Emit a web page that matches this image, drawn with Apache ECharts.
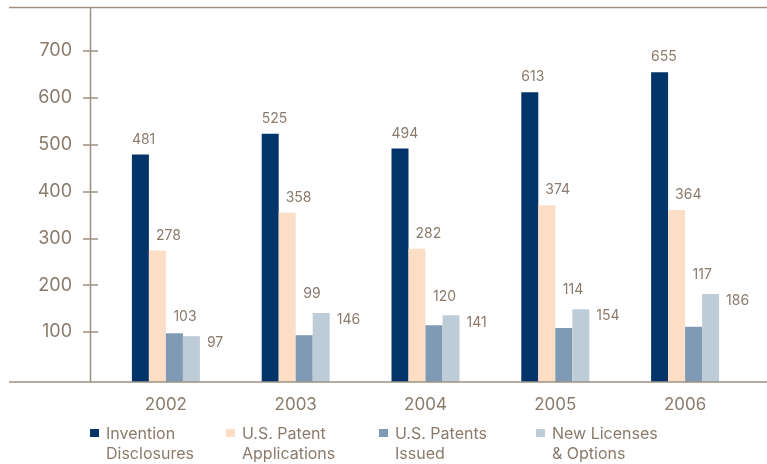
<!DOCTYPE html>
<html><head><meta charset="utf-8">
<script src="https://cdn.jsdelivr.net/npm/echarts@6/dist/echarts.min.js"></script>
<style>html,body{margin:0;padding:0;background:#fff}#c{width:767px;height:464px}</style>
</head><body><div id="c"></div>
<script>
// ---- data ----
const years = ['2002', '2003', '2004', '2005', '2006'];
const seriesNames = ['Invention\nDisclosures', 'U.S. Patent\nApplications', 'U.S. Patents\nIssued', 'New Licenses\n& Options'];
const inventionDisclosures = [481, 525, 494, 613, 655];
const patentApplications = [278, 358, 282, 374, 364];
const patentsIssued = [103, 99, 120, 114, 117];
const newLicenses = [97, 146, 141, 154, 186];
const yTickLabels = [100, 200, 300, 400, 500, 600, 700];

// ---- style ----
const FONT = 'Inter';
const TEXT = '#8A7B6C';
const LINE = '#9E9081';
const COLORS = ['#04356A', '#FCDEC6', '#7F9AB5', '#BECCD8'];
const BW = 17;

const chart = echarts.init(document.getElementById('c'), null, {renderer: 'canvas'});

function lbl(dx, dy) {
  return {show: true, position: 'top', distance: 0, align: 'left', verticalAlign: 'middle',
    offset: [dx, dy], color: TEXT, fontFamily: FONT, fontSize: 14};
}

const yMin = yTickLabels[0], yMax = yTickLabels[yTickLabels.length - 1];
const yStep = yTickLabels[1] - yTickLabels[0];

const legendX = [90, 226, 379, 536];
const legends = seriesNames.map((n, i) => ({
  data: [n], left: legendX[i], top: 424, padding: 0, orient: 'horizontal',
  itemWidth: 9, itemHeight: 30, icon: 'path://M0,0h9v8h-9zM0,30h0.01',
  selectedMode: false,
  textStyle: {color: TEXT, fontFamily: FONT, fontSize: 16, lineHeight: 20, padding: [0, 0, 0, 2]}
}));

const option = {
  animation: false,
  backgroundColor: '#fff',
  grid: [
    {left: 101, right: 17, top: 51, bottom: 82, containLabel: false},
    {left: 90, width: 1, top: 51, bottom: 132, containLabel: false}
  ],
  xAxis: [
    {type: 'category', gridIndex: 0, data: years,
      axisLine: {show: false}, axisTick: {show: false},
      axisLabel: {color: TEXT, fontFamily: FONT, fontSize: 17, margin: 14}},
    {type: 'value', gridIndex: 1, show: false}
  ],
  yAxis: [
    {type: 'value', gridIndex: 0, min: 0, max: yMax, interval: yStep, show: false, splitLine: {show: false}},
    {type: 'value', gridIndex: 1, position: 'left', min: yMin, max: yMax, interval: yStep,
      axisLine: {show: false}, splitLine: {show: false},
      axisTick: {show: true, inside: false, length: 7, lineStyle: {color: LINE, width: 1.5}},
      axisLabel: {color: TEXT, fontFamily: FONT, fontSize: 18, margin: 18}},
    {type: 'value', gridIndex: 1, position: 'right', min: yMin, max: yMax, interval: yStep,
      axisLine: {show: false}, splitLine: {show: false},
      axisTick: {show: true, inside: false, length: 7, lineStyle: {color: LINE, width: 1.5}},
      axisLabel: {show: false}}
  ],
  legend: legends,
  graphic: [
    {type: 'line', z: 100, shape: {x1: 9, y1: 7.5, x2: 767, y2: 7.5}, style: {stroke: LINE, lineWidth: 1.5}},
    {type: 'line', z: 100, shape: {x1: 9, y1: 382, x2: 767, y2: 382}, style: {stroke: LINE, lineWidth: 1.5}},
    {type: 'line', z: 100, shape: {x1: 90.5, y1: 7, x2: 90.5, y2: 382}, style: {stroke: LINE, lineWidth: 1.5}}
  ],
  series: [
    {name: seriesNames[0], type: 'bar', xAxisIndex: 0, yAxisIndex: 0, barWidth: BW, barGap: '0%',
      itemStyle: {color: COLORS[0]}, data: inventionDisclosures, label: lbl(-BW / 2, -15)},
    {name: seriesNames[1], type: 'bar', xAxisIndex: 0, yAxisIndex: 0, barWidth: BW, barGap: '0%',
      itemStyle: {color: COLORS[1]}, data: patentApplications, label: lbl(-BW / 2 + 7, -15)},
    {name: seriesNames[2], type: 'bar', xAxisIndex: 0, yAxisIndex: 0, barWidth: BW, barGap: '0%',
      itemStyle: {color: COLORS[2]}, data: patentsIssued, label: lbl(-BW / 2 + 7.5, -15)},
    {name: seriesNames[3], type: 'bar', xAxisIndex: 0, yAxisIndex: 0, barWidth: BW, barGap: '0%',
      itemStyle: {color: COLORS[3]}, data: newLicenses, label: lbl(BW / 2 + 7, 7)}
  ]
};
chart.setOption(option);

// Issued labels sit above the neighbouring New Licenses bar, as in the original
const issuedData = patentsIssued.map((v, i) => {
  const dy = chart.convertToPixel({yAxisIndex: 0}, newLicenses[i]) - chart.convertToPixel({yAxisIndex: 0}, v);
  return {value: v, label: {offset: [-BW / 2 + 7.5, dy - 19]}};
});
chart.setOption({series: [{}, {}, {data: issuedData}, {}]});
</script></body></html>
